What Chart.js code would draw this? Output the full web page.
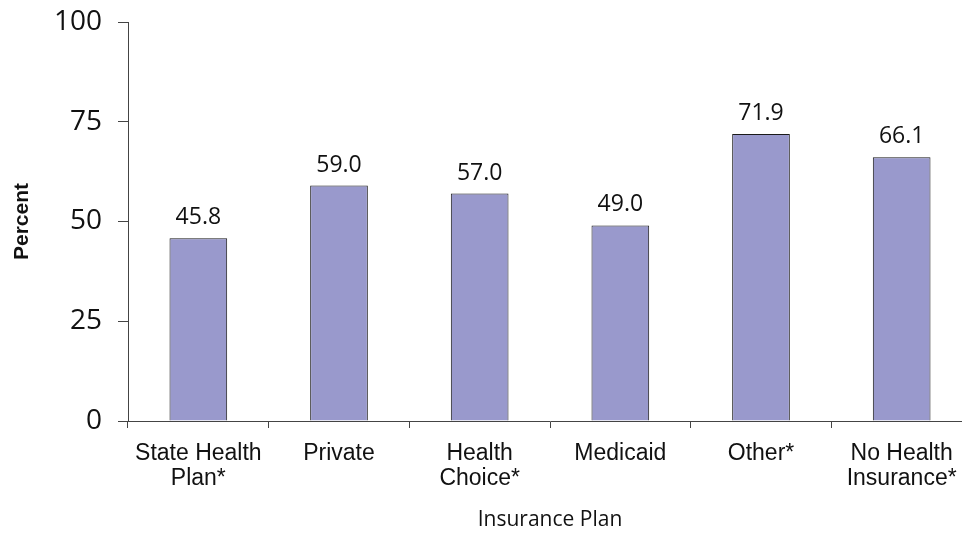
<!DOCTYPE html>
<html>
<head>
<meta charset="utf-8">
<script src="https://cdn.jsdelivr.net/npm/chart.js@4/dist/chart.umd.min.js"></script>
<style>
  html, body { margin: 0; padding: 0; background: #fff; overflow: hidden; }
  #wrap { width: 980px; height: 533px; }
</style>
</head>
<body>
<div id="wrap"><canvas id="planoChart" width="980" height="533"></canvas></div>
<script>
const planos = [
    ['State Health', 'Plan*'],
    'Private',
    ['Health', 'Choice*'],
    'Medicaid',
    'Other*',
    ['No Health', 'Insurance*']
];
const percentuais = [45.8, 59.0, 57.0, 49.0, 71.9, 66.1];
const ticksY = [0, 25, 50, 75, 100];

// escreve o valor em cima de cada barra
const rotulosValor = {
    id: 'rotulosValor',
    afterDatasetsDraw(chart) {
        const ctx = chart.ctx;
        const meta = chart.getDatasetMeta(0);
        ctx.save();
        ctx.font = '23px "Open Sans"';
        ctx.fillStyle = '#111';
        ctx.textAlign = 'center';
        ctx.textBaseline = 'alphabetic';
        meta.data.forEach((barra, i) => {
            ctx.fillText(percentuais[i].toFixed(1), barra.x, barra.y - 14);
        });
        ctx.restore();
    }
};

new Chart(document.getElementById('planoChart'), {
    type: 'bar',
    data: {
        labels: planos,
        datasets: [{
            data: percentuais,
            backgroundColor: '#9999cc',
            borderColor: '#1a1a1a',
            borderWidth: 1,
            barPercentage: 0.41,
            categoryPercentage: 1
        }]
    },
    options: {
        responsive: false,
        animation: false,
        layout: { padding: { top: 22, right: 8 } },
        plugins: {
            legend: { display: false },
            tooltip: { enabled: false }
        },
        scales: {
            y: {
                min: 0,
                max: 100,
                afterBuildTicks: (scale) => { scale.ticks = ticksY.map(v => ({ value: v })); },
                afterFit: (scale) => {
                    scale.width = 128;
                    scale.paddingTop = 0;
                    scale.paddingBottom = 0;
                },
                border: { color: '#444', width: 1 },
                grid: { drawOnChartArea: false, tickLength: 10, color: '#444' },
                ticks: {
                    padding: 16,
                    color: '#111',
                    font: { family: '"Open Sans"', size: 28 }
                },
                title: {
                    display: true,
                    text: 'Percent',
                    color: '#111',
                    font: { family: '"Liberation Sans"', size: 21, weight: 'bold' },
                    padding: { top: 10, bottom: 0 }
                }
            },
            x: {
                afterFit: (scale) => {
                    scale.height = 112;
                    scale.paddingLeft = 0;
                    scale.paddingRight = 0;
                },
                border: { color: '#444', width: 1 },
                grid: { drawOnChartArea: false, tickLength: 7, color: '#444', offset: true },
                ticks: {
                    padding: 13,
                    color: '#111',
                    maxRotation: 0,
                    autoSkip: false,
                    font: { family: '"Liberation Sans"', size: 23, lineHeight: 25 / 23 }
                },
                title: {
                    display: true,
                    text: 'Insurance Plan',
                    color: '#111',
                    font: { family: '"Open Sans"', size: 21 },
                    padding: { top: 14, bottom: 0 }
                }
            }
        }
    },
    plugins: [rotulosValor]
});
</script>
</body>
</html>
